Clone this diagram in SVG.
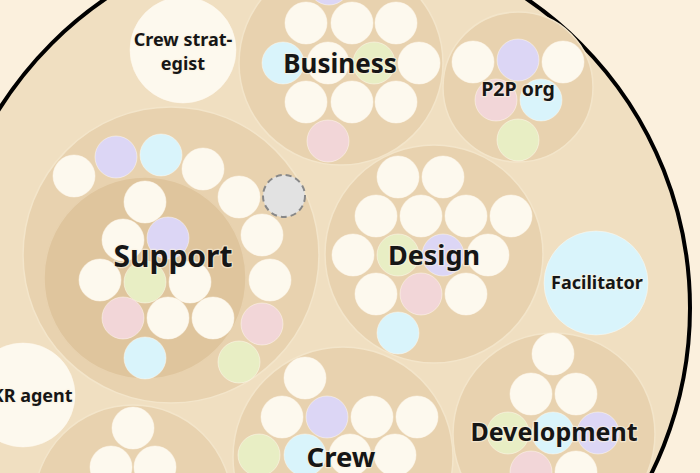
<svg xmlns="http://www.w3.org/2000/svg" width="700" height="473" viewBox="0 0 700 473">
<style>
.bg{fill:#fbf0dd}
.root{fill:#f0dfc1;stroke:#000;stroke-width:4}
.grp{fill:#e8d2af;stroke:#f3e5ca;stroke-width:1.5}
.inner{fill:#dfc59d;stroke:#e8d2af;stroke-width:1.5}
.c{stroke:#fffaf0;stroke-opacity:.5;stroke-width:1}
.w{fill:#fdf9ee}
.b{fill:#d9f4fb}
.l{fill:#dcd6f5}
.p{fill:#f2d6d8}
.g{fill:#e8eec4}
.x{fill:#e2e2e2;stroke:#888;stroke-width:2;stroke-dasharray:6 4}
text{font-family:"Noto Sans","Open Sans","DejaVu Sans",sans-serif;font-weight:700;fill:#161616;text-anchor:middle;stroke:#fbf3e3;stroke-opacity:.6;stroke-width:2.5;paint-order:stroke;stroke-linejoin:round}
.sm{font-size:18px}
</style>
<rect class="bg" x="0" y="0" width="700" height="473"/>
<circle class="root" cx="316" cy="308" r="374"/>
<g id="connectors"/>

<g id="crew-strategist">
<circle class="c w" cx="183" cy="50" r="53"/>
<text class="sm" x="183" y="46">Crew strat-</text>
<text class="sm" x="183" y="70">egist</text>
</g>

<g id="okr-agent">
<circle class="c w" cx="23" cy="395" r="52"/>
<text class="sm" x="25" y="402">OKR agent</text>
</g>

<g id="facilitator">
<circle class="c b" cx="596" cy="283" r="52"/>
<text class="sm" x="597" y="289">Facilitator</text>
</g>

<g id="business">
<circle class="grp" cx="341" cy="63" r="102"/>
<circle class="c l" cx="329" cy="-16" r="21"/>
<circle class="c w" cx="306" cy="23" r="21"/>
<circle class="c w" cx="352" cy="23" r="21"/>
<circle class="c w" cx="396" cy="23" r="21"/>
<circle class="c b" cx="283" cy="63" r="21"/>
<circle class="c w" cx="328" cy="63" r="21"/>
<circle class="c g" cx="374" cy="63" r="21"/>
<circle class="c w" cx="419" cy="63" r="21"/>
<circle class="c w" cx="306" cy="102" r="21"/>
<circle class="c w" cx="352" cy="102" r="21"/>
<circle class="c w" cx="396" cy="102" r="21"/>
<circle class="c p" cx="328" cy="141" r="21"/>
<text x="340" y="73" font-size="26">Business</text>
</g>

<g id="p2p-org">
<circle class="grp" cx="518" cy="87" r="75"/>
<circle class="c w" cx="473" cy="62" r="21"/>
<circle class="c l" cx="518" cy="60" r="21"/>
<circle class="c w" cx="563" cy="62" r="21"/>
<circle class="c p" cx="496" cy="100" r="21"/>
<circle class="c b" cx="541" cy="100" r="21"/>
<circle class="c g" cx="518" cy="140" r="21"/>
<text x="518" y="96" font-size="19.5">P2P org</text>
</g>

<g id="support">
<circle class="grp" cx="171" cy="255" r="148"/>
<circle class="inner" cx="145" cy="278" r="101"/>
<circle class="c w" cx="145" cy="202" r="21"/>
<circle class="c w" cx="123" cy="240" r="21"/>
<circle class="c l" cx="168" cy="238" r="21"/>
<circle class="c w" cx="100" cy="280" r="21"/>
<circle class="c g" cx="145" cy="282" r="21"/>
<circle class="c w" cx="190" cy="282" r="21"/>
<circle class="c p" cx="123" cy="318" r="21"/>
<circle class="c w" cx="168" cy="318" r="21"/>
<circle class="c w" cx="213" cy="318" r="21"/>
<circle class="c b" cx="145" cy="358" r="21"/>
<circle class="c w" cx="74" cy="176" r="21"/>
<circle class="c l" cx="116" cy="157" r="21"/>
<circle class="c b" cx="161" cy="155" r="21"/>
<circle class="c w" cx="203" cy="169" r="21"/>
<circle class="c w" cx="239" cy="197" r="21"/>
<circle class="x" cx="284" cy="196" r="21"/>
<circle class="c w" cx="262" cy="235" r="21"/>
<circle class="c w" cx="270" cy="280" r="21"/>
<circle class="c p" cx="262" cy="324" r="21"/>
<circle class="c g" cx="239" cy="362" r="21"/>
<text x="173" y="267" font-size="30">Support</text>
</g>

<g id="design">
<circle class="grp" cx="434" cy="254" r="109"/>
<circle class="c w" cx="398" cy="177" r="21"/>
<circle class="c w" cx="443" cy="177" r="21"/>
<circle class="c w" cx="376" cy="216" r="21"/>
<circle class="c w" cx="421" cy="216" r="21"/>
<circle class="c w" cx="466" cy="216" r="21"/>
<circle class="c w" cx="511" cy="216" r="21"/>
<circle class="c w" cx="353" cy="255" r="21"/>
<circle class="c g" cx="398" cy="255" r="21"/>
<circle class="c l" cx="443" cy="255" r="21"/>
<circle class="c w" cx="488" cy="255" r="21"/>
<circle class="c w" cx="376" cy="294" r="21"/>
<circle class="c p" cx="421" cy="294" r="21"/>
<circle class="c w" cx="466" cy="294" r="21"/>
<circle class="c b" cx="398" cy="333" r="21"/>
<text x="434" y="265" font-size="27">Design</text>
</g>

<g id="development">
<circle class="grp" cx="554" cy="434" r="101"/>
<circle class="c w" cx="553" cy="354" r="21"/>
<circle class="c w" cx="531" cy="394" r="21"/>
<circle class="c w" cx="576" cy="394" r="21"/>
<circle class="c g" cx="508" cy="433" r="21"/>
<circle class="c b" cx="553" cy="433" r="21"/>
<circle class="c l" cx="598" cy="433" r="21"/>
<circle class="c p" cx="531" cy="472" r="21"/>
<circle class="c w" cx="576" cy="472" r="21"/>
<text x="554" y="441" font-size="25">Development</text>
</g>

<g id="crew">
<circle class="grp" cx="343" cy="457" r="110"/>
<circle class="c w" cx="305" cy="378" r="21"/>
<circle class="c w" cx="282" cy="417" r="21"/>
<circle class="c l" cx="327" cy="417" r="21"/>
<circle class="c w" cx="372" cy="417" r="21"/>
<circle class="c w" cx="417" cy="417" r="21"/>
<circle class="c g" cx="259" cy="455" r="21"/>
<circle class="c b" cx="305" cy="455" r="21"/>
<circle class="c w" cx="350" cy="455" r="21"/>
<circle class="c w" cx="395" cy="455" r="21"/>
<text x="341" y="467" font-size="27.5">Crew</text>
</g>

<g id="bottom-left">
<circle class="grp" cx="133" cy="504" r="99"/>
<circle class="c w" cx="133" cy="428" r="21"/>
<circle class="c w" cx="111" cy="467" r="21"/>
<circle class="c w" cx="155" cy="467" r="21"/>
</g>
</svg>
